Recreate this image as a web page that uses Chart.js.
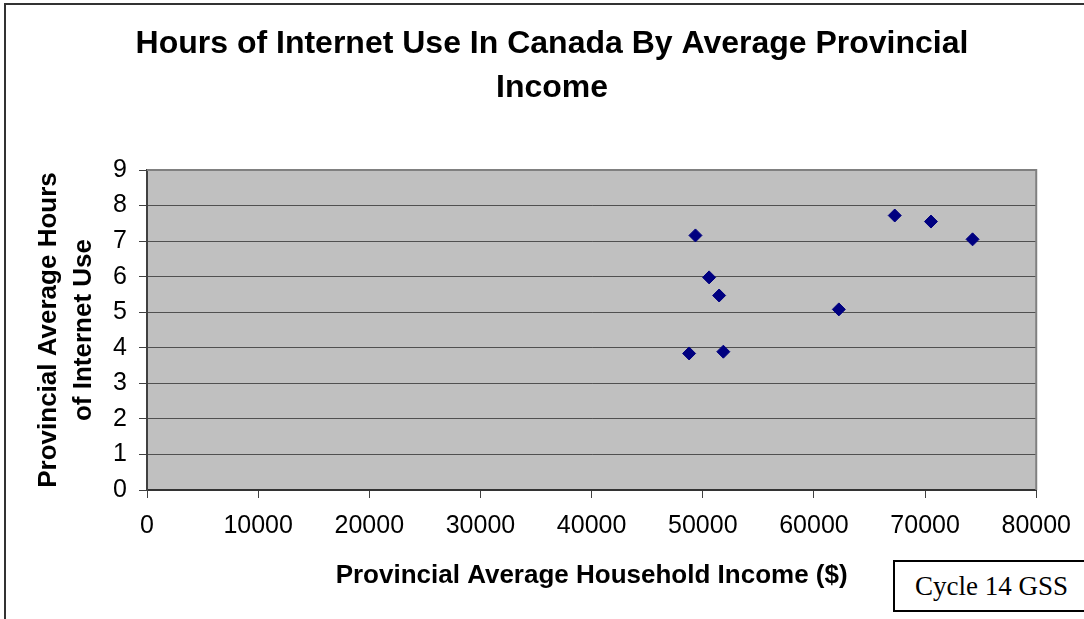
<!DOCTYPE html>
<html>
<head>
<meta charset="utf-8">
<script src="https://cdn.jsdelivr.net/npm/chart.js@4"></script>
<style>
  html, body { margin: 0; padding: 0; background: #ffffff; overflow: hidden; }
  #wrap { position: relative; width: 1084px; height: 619px; overflow: hidden; }
  #frame { position: absolute; left: 4px; top: 3px; width: 1200px; height: 700px; border: 2px solid #333333; box-sizing: border-box; }
  #c { position: absolute; left: 0; top: 0; }
  #note { position: absolute; left: 893px; top: 560px; width: 220px; height: 52px; box-sizing: border-box;
          border: 2px solid #000; background: #fff; font-family: "Liberation Serif", "Times New Roman", serif;
          font-size: 27px; line-height: 48px; padding-left: 20px; color: #000; white-space: nowrap; }
</style>
</head>
<body>
<div id="wrap">
  <div id="frame"></div>
  <canvas id="c" width="1084" height="619"></canvas>
  <div id="note">Cycle 14 GSS</div>
</div>
<script>
const chartTitle = ['Hours of Internet Use In Canada By Average Provincial', 'Income'];
const xTitle = 'Provincial Average Household Income ($)';
const yTitle = ['Provincial Average Hours', 'of Internet Use'];
const incomes = [49340, 50570, 51470, 48770, 51850, 62240, 67270, 70530, 74270];
const hours   = [7.16, 5.98, 5.47, 3.84, 3.89, 5.08, 7.72, 7.55, 7.05];
const xTickValues = [0, 10000, 20000, 30000, 40000, 50000, 60000, 70000, 80000];
const yTickValues = [0, 1, 2, 3, 4, 5, 6, 7, 8, 9];

Chart.defaults.font.family = '"Liberation Sans", Arial, sans-serif';
Chart.defaults.color = '#000000';

const plotBg = {
  id: 'plotBg',
  beforeDraw(chart) {
    const {ctx, chartArea: a} = chart;
    ctx.save();
    ctx.fillStyle = '#C0C0C0';
    ctx.fillRect(a.left, a.top, a.right - a.left, a.bottom - a.top);
    ctx.restore();
  },
  beforeDatasetsDraw(chart) {
    const {ctx, chartArea: a} = chart;
    ctx.save();
    ctx.strokeStyle = '#808080';
    ctx.lineWidth = 2;
    ctx.beginPath();
    ctx.moveTo(a.left, a.top);
    ctx.lineTo(a.right, a.top);
    ctx.lineTo(a.right, a.bottom);
    ctx.stroke();
    ctx.restore();
  }
};

new Chart(document.getElementById('c'), {
  type: 'scatter',
  data: {
    datasets: [{
      data: incomes.map((v, i) => ({x: v, y: hours[i]})),
      pointStyle: 'rectRot',
      pointRadius: 6.5,
      pointHoverRadius: 6.5,
      backgroundColor: '#000080',
      borderColor: '#000080',
      borderWidth: 1
    }]
  },
  options: {
    responsive: false,
    animation: false,
    devicePixelRatio: 1,
    layout: { padding: { left: 20, right: 0, top: 0, bottom: 0 } },
    plugins: {
      legend: { display: false },
      tooltip: { enabled: false },
      title: {
        display: true,
        text: chartTitle,
        color: '#000',
        font: { size: 32, weight: 'bold', lineHeight: 44 / 32 },
        padding: { top: 22, bottom: 60 }
      }
    },
    scales: {
      x: {
        type: 'linear',
        position: 'bottom',
        min: 0, max: 80000,
        afterBuildTicks(s) { s.ticks = xTickValues.map(v => ({value: v})); },
        afterFit(s) { s.height = 129; },
        ticks: {
          color: '#000',
          font: { size: 25 },
          padding: 13,
          maxRotation: 0,
          autoSkip: false,
          callback: v => String(v)
        },
        grid: { drawOnChartArea: false, drawTicks: true, tickLength: 8, tickColor: '#404040', tickWidth: 1 },
        border: { display: true, color: '#333333', width: 2 },
        title: {
          display: true,
          text: xTitle,
          color: '#000',
          font: { size: 26, weight: 'bold', lineHeight: 1.2 },
          padding: { top: 0, bottom: 28 }
        }
      },
      y: {
        type: 'linear',
        position: 'left',
        min: 0, max: 9,
        afterBuildTicks(s) { s.ticks = yTickValues.map(v => ({value: v})); },
        afterFit(s) { s.width = 127; },
        ticks: {
          color: '#000',
          font: { size: 25 },
          padding: 12,
          callback: v => String(v)
        },
        grid: { color: '#505050', lineWidth: 1, drawTicks: true, tickLength: 8, tickColor: '#404040' },
        border: { display: true, color: '#404040', width: 2 },
        title: {
          display: true,
          text: yTitle,
          color: '#000',
          font: { size: 26, weight: 'bold', lineHeight: 35 / 26 },
          padding: { top: 11, bottom: 0 }
        }
      },
      y2: {
        type: 'linear',
        position: 'right',
        display: true,
        afterFit(s) { s.width = 47; },
        ticks: { display: false },
        grid: { display: false, drawTicks: false },
        border: { display: false }
      }
    }
  },
  plugins: [plotBg]
});
</script>
</body>
</html>
